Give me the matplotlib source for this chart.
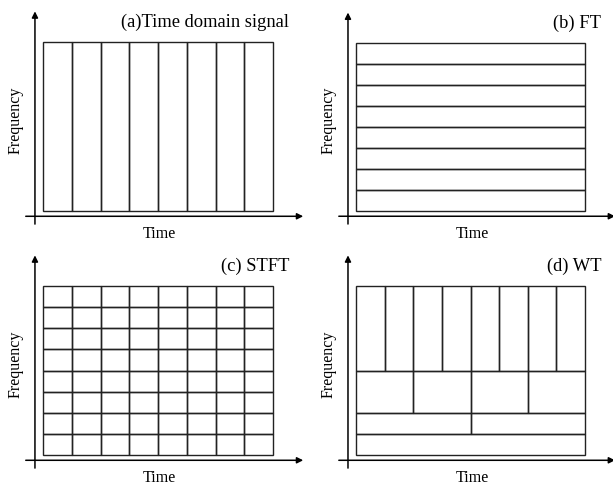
import matplotlib
matplotlib.use("Agg")
import matplotlib.pyplot as plt
from matplotlib.patches import Rectangle

plt.rcParams['font.family'] = ['Liberation Serif', 'DejaVu Serif']

# time-frequency tilings: (row bottom, row top, number of columns) per band
titles = ["(a)Time domain signal", "(b) FT", "(c) STFT", "(d) WT"]
tiling_a = [(0, 8, 8)]
tiling_b = [(0, 1, 1), (1, 2, 1), (2, 3, 1), (3, 4, 1),
            (4, 5, 1), (5, 6, 1), (6, 7, 1), (7, 8, 1)]
tiling_c = [(0, 1, 8), (1, 2, 8), (2, 3, 8), (3, 4, 8),
            (4, 5, 8), (5, 6, 8), (6, 7, 8), (7, 8, 8)]
tiling_d = [(0, 1, 1), (1, 2, 2), (2, 4, 4), (4, 8, 8)]
tilings = [tiling_a, tiling_b, tiling_c, tiling_d]
t_span = 8

W, H = 613, 485
fig = plt.figure(figsize=(W / 100, H / 100), dpi=100)

# pixel box of the tiling rectangle in each panel (left, right, top, bottom)
boxes = [(43, 273, 43, 212), (356, 585, 44, 212),
         (43, 273, 287, 456), (356, 585, 287, 456)]
XL = (-0.7, 9.2)
YL = (-0.7, 9.6)

for title, tiling, (l, r, t, b) in zip(titles, tilings, boxes):
    sx = (r - l) / 8.0
    sy = (b - t) / 8.0
    px0 = l + XL[0] * sx
    px1 = l + XL[1] * sx
    py0 = b - YL[0] * sy
    py1 = b - YL[1] * sy
    ax = fig.add_axes([px0 / W, (H - py0) / H, (px1 - px0) / W, (py0 - py1) / H])
    ax.set_xlim(*XL)
    ax.set_ylim(*YL)
    ax.axis('off')

    for y0, y1, n in tiling:
        w = t_span / n
        for k in range(n):
            ax.add_patch(Rectangle((k * w, y0), w, y1 - y0, fill=False,
                                   edgecolor='#222222', lw=1.0))

    # axes with arrows
    ax.annotate('', xy=(9.05, -0.25), xytext=(-0.6, -0.25),
                arrowprops=dict(arrowstyle='-|>', color='black', lw=1.1,
                                mutation_scale=9, shrinkA=0, shrinkB=0),
                annotation_clip=False)
    ax.annotate('', xy=(-0.28, 9.45), xytext=(-0.28, -0.62),
                arrowprops=dict(arrowstyle='-|>', color='black', lw=1.1,
                                mutation_scale=9, shrinkA=0, shrinkB=0),
                annotation_clip=False)

    ax.text(8.57, 8.77, title, ha='right', va='baseline', fontsize=13.3)
    ax.text(4.05, -1.05, "Time", ha='center', va='center', fontsize=11.5,
            clip_on=False)
    ax.text(-0.95, 4.35, "Frequency", ha='center', va='center', fontsize=11.5,
            rotation=90, clip_on=False)

fig.savefig("out.png", dpi=100, facecolor='white')
